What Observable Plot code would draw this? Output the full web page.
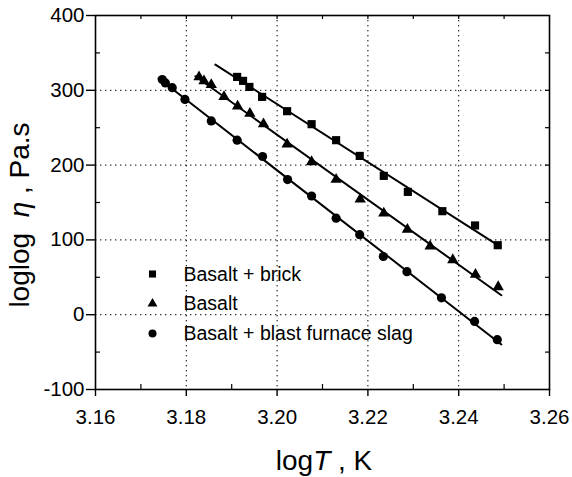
<!DOCTYPE html>
<html>
<head>
<meta charset="utf-8">
<script src="https://cdn.jsdelivr.net/npm/d3@7"></script>
<script src="https://cdn.jsdelivr.net/npm/@observablehq/plot@0.6"></script>
<style>
  body { margin: 0; background: #fff; }
  #chart { width: 572px; height: 477px; }
</style>
</head>
<body>
<div id="chart"></div>
<script>
// Series labels and marker shapes
const seriesNames = ["Basalt + brick", "Basalt", "Basalt + blast furnace slag"];
const seriesSymbols = ["square", "triangle", "circle"];

// Basalt + brick
const brickLogT = [3.1912, 3.1925, 3.1939, 3.1967, 3.2022, 3.2076, 3.2130, 3.2182, 3.2235, 3.2288, 3.2364, 3.2436, 3.2486];
const brickLogLogEta = [317.9, 312.6, 304.5, 291.2, 272.1, 254.7, 233.3, 212.3, 185.6, 164.2, 138.4, 119.3, 92.9];

// Basalt
const basaltLogT = [3.1828, 3.1839, 3.1855, 3.1883, 3.1913, 3.1940, 3.1970, 3.2022, 3.2076, 3.2130, 3.2183, 3.2235, 3.2287, 3.2337, 3.2387, 3.2437, 3.2487];
const basaltLogLogEta = [317.9, 312.4, 307.5, 291.4, 278.7, 269.0, 254.9, 227.9, 204.3, 180.7, 154.4, 135.7, 113.9, 91.6, 73.3, 53.7, 37.2];

// Basalt + blast furnace slag
const slagLogT = [3.1747, 3.1754, 3.1769, 3.1797, 3.1855, 3.1912, 3.1968, 3.2023, 3.2076, 3.2130, 3.2182, 3.2234, 3.2286, 3.2362, 3.2435, 3.2485];
const slagLogLogEta = [314.4, 309.9, 303.5, 287.8, 259.1, 233.3, 211.5, 180.7, 158.7, 129.0, 107.0, 77.8, 57.5, 22.5, -9.0, -33.4];

// x range over which each linear fit is drawn
const fitFrom = [3.1864, 3.1820, 3.1739];
const fitTo = [3.2492, 3.2494, 3.2494];

// Axis ticks
const xTicks = [3.16, 3.18, 3.20, 3.22, 3.24, 3.26];
const xGrid = [3.18, 3.20, 3.22, 3.24];
const xMinor = [3.17, 3.19, 3.21, 3.23, 3.25];
const yTicks = [-100, 0, 100, 200, 300, 400];
const yGrid = [0, 100, 200, 300];
const yMinor = [-50, 50, 150, 250, 350];

const xsAll = [brickLogT, basaltLogT, slagLogT];
const ysAll = [brickLogLogEta, basaltLogLogEta, slagLogLogEta];

const series = seriesNames.map((name, i) => ({
  name,
  symbol: seriesSymbols[i],
  points: xsAll[i].map((x, j) => ({x, y: ysAll[i][j]}))
}));

// Least-squares line through each series
function fitLine(points, x0, x1) {
  const mx = d3.mean(points, d => d.x), my = d3.mean(points, d => d.y);
  const sxy = d3.sum(points, d => (d.x - mx) * (d.y - my));
  const sxx = d3.sum(points, d => (d.x - mx) ** 2);
  const b = sxy / sxx, a = my - b * mx;
  return [x0, x1].map(x => ({x, y: a + b * x}));
}

const W = 572, H = 477, ML = 95, MR = 23, MT = 15, MB = 88;
const innerW = W - ML - MR, innerH = H - MT - MB;
const dotR = {square: 4.6, triangle: 4.2, circle: 4.6};
const legendR = {square: 4.0, triangle: 3.7, circle: 4.0};

const marks = [
  Plot.gridX(xGrid, {stroke: "black", strokeOpacity: 1, strokeWidth: 1, strokeDasharray: "1.4,3.6"}),
  Plot.gridY(yGrid, {stroke: "black", strokeOpacity: 1, strokeWidth: 1, strokeDasharray: "1.4,3.6"}),
  // inward minor ticks: left and bottom
  Plot.tickY(yMinor, {y: d => d, stroke: "black", strokeWidth: 1.2, insetRight: innerW - 5}),
  Plot.tickX(xMinor, {x: d => d, stroke: "black", strokeWidth: 1.2, insetTop: innerH - 5}),
  // inward ticks: top and right
  Plot.tickX([...xGrid, ...xMinor], {x: d => d, stroke: "black", strokeWidth: 1.2, insetBottom: innerH - 4}),
  Plot.tickY([...yGrid, ...yMinor], {y: d => d, stroke: "black", strokeWidth: 1.2, insetLeft: innerW - 4}),
  Plot.axisX({ticks: xTicks, tickSize: 7, tickPadding: 13, fontSize: 20.5, strokeWidth: 1.4, tickFormat: d => d.toFixed(2), label: null}),
  Plot.axisY({ticks: yTicks, tickSize: 9, tickPadding: 2, fontSize: 20.5, strokeWidth: 1.4, tickFormat: d => String(d), label: null}),
  Plot.frame({stroke: "black", strokeWidth: 1.6})
];

series.forEach((s, i) => {
  marks.push(Plot.line(fitLine(s.points, fitFrom[i], fitTo[i]), {x: "x", y: "y", stroke: "black", strokeWidth: 2}));
  marks.push(Plot.dot(s.points, {x: "x", y: "y", symbol: () => s.symbol, r: dotR[s.symbol], fill: "black", stroke: "none"}));
  // legend row inside the plot area
  marks.push(Plot.dot([s], {frameAnchor: "top-left", dx: 57, dy: 258.5 + i * 29.7, symbol: () => s.symbol, r: legendR[s.symbol], fill: "black", stroke: "none"}));
  marks.push(Plot.text([s], {frameAnchor: "top-left", dx: 88, dy: 259 + i * 29.7, text: "name", textAnchor: "start", lineAnchor: "middle", fontSize: 19.5, fill: "black"}));
});

const chart = Plot.plot({
  width: W, height: H,
  marginLeft: ML, marginRight: MR, marginTop: MT, marginBottom: MB,
  x: {domain: [3.16, 3.26]},
  y: {domain: [-100, 400]},
  symbol: {type: "identity"},
  style: {fontFamily: "'Liberation Sans', Arial, sans-serif", background: "white", color: "black"},
  marks
});

// axis titles with italic symbols
const svg = d3.select(chart);
const xt = svg.append("text")
  .attr("x", ML + innerW / 2 + 2).attr("y", 470)
  .attr("text-anchor", "middle")
  .attr("font-family", "'Liberation Sans', Arial, sans-serif")
  .attr("font-size", 28).attr("fill", "black");
xt.append("tspan").text("log");
xt.append("tspan").attr("font-style", "italic").text("T");
xt.append("tspan").text(" , K");

const yt = svg.append("text")
  .attr("transform", `translate(29,${MT + innerH / 2 + 13}) rotate(-90)`)
  .attr("text-anchor", "middle")
  .attr("font-family", "'Liberation Sans', Arial, sans-serif")
  .attr("font-size", 28).attr("fill", "black");
yt.append("tspan").text("loglog  ");
yt.append("tspan").attr("font-style", "italic").text("η");
yt.append("tspan").text(" , Pa.s");

document.getElementById("chart").appendChild(chart);
</script>
</body>
</html>
